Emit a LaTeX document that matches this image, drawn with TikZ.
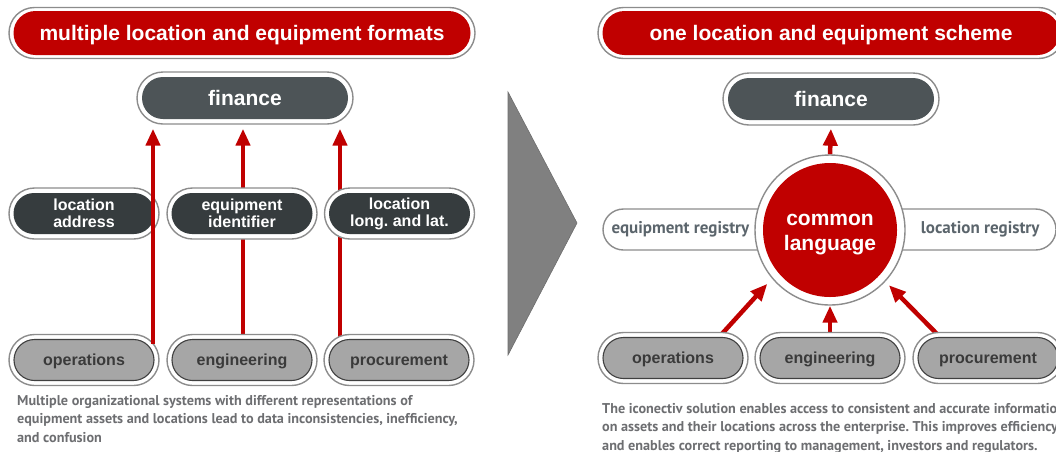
\documentclass[tikz,border=0pt]{standalone}
\usepackage{fontspec}
\setmainfont{Liberation Sans}
\newfontfamily\hum{PT Sans}
\usetikzlibrary{shapes.misc,arrows.meta}
\definecolor{cred}{HTML}{C00000}
\definecolor{ringc}{HTML}{8C8C8C}
\definecolor{fincol}{HTML}{4D5457}
\definecolor{darkc}{HTML}{363C3E}
\definecolor{botc}{HTML}{A6A6A6}
\definecolor{botline}{HTML}{404040}
\definecolor{bottext}{HTML}{3A3A3A}
\definecolor{paratext}{HTML}{6D6E71}
\definecolor{regtext}{HTML}{5B656C}
\definecolor{tric}{HTML}{808080}
\pgfdeclarelayer{back}
\pgfdeclarelayer{front}
\pgfsetlayers{back,main,front}
\frenchspacing
\tikzset{
  ring/.style={rounded rectangle, draw=ringc, line width=1.4pt, fill=white, inner sep=0pt, minimum height=51pt},
  banner/.style={rounded rectangle, fill=cred, text=white, inner sep=0pt, minimum height=44pt, text depth=0pt,
     font=\bfseries\fontsize{21}{25}\selectfont},
  finbox/.style={rounded rectangle, fill=fincol, text=white, inner sep=0pt, minimum height=42pt, minimum width=206pt,
     text depth=0pt, font=\bfseries\fontsize{21}{25}\selectfont},
  midbox/.style={rounded rectangle, fill=darkc, text=white, inner sep=0pt, minimum height=41pt, minimum width=141pt,
     align=center, font=\bfseries\fontsize{16}{17}\selectfont},
  botbox/.style={rounded rectangle, fill=botc, draw=botline, line width=1.1pt, text=bottext, inner sep=0pt,
     minimum height=41pt, minimum width=140pt, text depth=0pt, font=\bfseries\fontsize{16}{19}\selectfont},
  regpill/.style={rounded rectangle, draw=ringc, line width=1.4pt, fill=white, inner sep=0pt, minimum height=41pt},
  regtxt/.style={text=regtext, inner sep=0pt, font=\hum\bfseries\fontsize{17}{20}\selectfont},
  para/.style={text=paratext, inner sep=0pt, align=left, font=\hum\bfseries\fontsize{14.2}{18.5}\selectfont},
  arr/.style={draw=cred, line width=4.5pt, -{Triangle[width=14pt,length=17pt]}},
}
\begin{document}
\begin{tikzpicture}[x=1pt,y=-1pt]
\useasboundingbox (0,0) rectangle (1056,451);
\begin{scope}
\clip (0,0) rectangle (1056,451);
% ---------- left panel ----------
\node[ring, minimum width=466pt] (ban1r) at (242,33) {};
\node[banner, minimum width=457pt] (ban1) at (242,33) {multiple location and equipment formats};
\node[ring, minimum width=216pt, minimum height=52pt] (fin1r) at (245,98) {};
\node[finbox] (fin1) at (245,98) {finance};

\node[ring, minimum width=150pt] (m1r) at (84,213.5) {};
\node[midbox] (m1) at (84,213.5) {location\\address};
\node[ring, minimum width=150pt] (m2r) at (242,213.5) {};
\node[midbox] (m2) at (242,213.5) {equipment\\identifier};
\node[ring, minimum width=150pt] (m3r) at (399.5,213.5) {};
\node[midbox] (m3) at (399.5,213.5) {location\\long. and lat.\vphantom{d}};

\node[ring, minimum width=150pt] (op1r) at (84,360) {};
\node[botbox] (op1) at (84,360) {operations};
\node[ring, minimum width=150pt] (eng1r) at (242,360) {};
\node[botbox] (eng1) at (242,360) {engineering};
\node[ring, minimum width=150pt] (pro1r) at (399,360) {};
\node[botbox] (pro1) at (399,360) {procurement};

\coordinate (a1s) at (153,344);
\coordinate (a3s) at (340,350);
\begin{pgfonlayer}{front}
\draw[arr, shorten >=4pt] (a1s) -- (a1s |- fin1r.south);
\end{pgfonlayer}
\begin{pgfonlayer}{back}
\draw[arr, shorten >=4pt] ([xshift=1pt]eng1r.north) -- ([xshift=1pt]eng1r.north |- fin1r.south);
\draw[arr, shorten >=4pt] (a3s) -- (a3s |- fin1r.south);
\end{pgfonlayer}

\node[para, anchor=north west] (txt1) at (17,395) {Multiple organizational systems with different representations of\\equipment assets and locations lead to data inconsistencies, inefficiency,\\and confusion};

% ---------- separator arrow ----------
\path[fill=tric, draw=tric!85!black, line width=0.6pt] (508,92) -- (577,223) -- (508,355) -- cycle;

% ---------- right panel ----------
\node[ring, minimum width=466pt] (ban2r) at (831,33) {};
\node[banner, minimum width=457pt] (ban2) at (831,33) {one location and equipment scheme};
\node[ring, minimum width=216pt, minimum height=52pt] (fin2r) at (831,99) {};
\node[finbox] (fin2) at (831,99) {finance};

\node[regpill, minimum width=200pt] (reg1) at (703,229.5) {};
\node[regtxt, anchor=west] (reg1t) at ([xshift=9pt]reg1.west) {equipment registry};
\node[regpill, minimum width=190pt] (reg2) at (961,229.5) {};
\node[regtxt, anchor=east] (reg2t) at ([xshift=-17pt]reg2.east) {location registry};

\node[circle, draw=ringc, line width=1.4pt, fill=white, minimum size=150pt, inner sep=0pt] (circr) at (830,230) {};
\node[circle, fill=cred, minimum size=134pt, inner sep=0pt] (circ) at (830,230) {};
\node[text=white, align=center, inner sep=0pt, text depth=0pt, font=\bfseries\fontsize{21}{25}\selectfont]
      (circt) at ([yshift=-2pt]circ.center) {common\\language};

\node[ring, minimum width=150pt] (op2r) at (673,358) {};
\node[botbox] (op2) at (673,358) {operations};
\node[ring, minimum width=150pt] (eng2r) at (830,358) {};
\node[botbox] (eng2) at (830,358) {engineering};
\node[ring, minimum width=150pt] (pro2r) at (988,358) {};
\node[botbox] (pro2) at (988,358) {procurement};

\coordinate (c1) at (720,336);
\coordinate (c2) at (939,336);
\begin{pgfonlayer}{back}
\draw[arr, shorten >=3pt] (circr.north) -- (fin2r.south);
\draw[arr] (eng2r.north) -- (circr.south);
\draw[arr, shorten >=7pt] (c1) -- (circr.-140);
\draw[arr, shorten >=5pt] (c2) -- (circr.-43);
\end{pgfonlayer}

\node[para, anchor=north west] (txt2) at (602,403) {The iconectiv solution enables access to consistent and accurate information\\on assets and their locations across the enterprise. This improves efficiency\\and enables correct reporting to management, investors and regulators.};
\end{scope}
\end{tikzpicture}
\end{document}
